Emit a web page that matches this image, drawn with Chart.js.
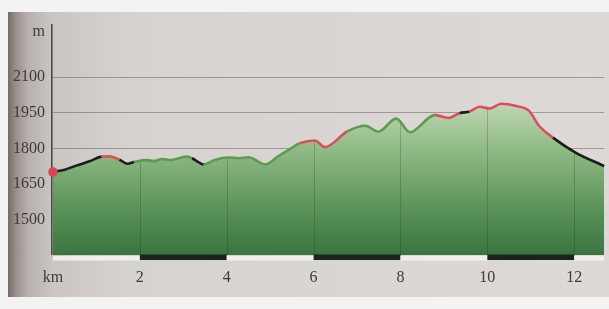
<!DOCTYPE html>
<html>
<head>
<meta charset="utf-8">
<script src="https://cdn.jsdelivr.net/npm/chart.js@4"></script>
<style>
  html, body { margin: 0; padding: 0; width: 609px; height: 309px; overflow: hidden; background: #f4f3f3; }
  #paper { position: absolute; left: 8px; top: 12px; right: 0; bottom: 12px;
    background: linear-gradient(to right, #746a69 0px, #968d8b 7px, #b7b0ae 20px, #cbc6c4 45px, #d6d2d0 120px, #dad6d4 350px, #dcd9d7 601px); }
  #c { position: absolute; left: 0; top: 0; }
</style>
</head>
<body>
<div id="paper"></div>
<canvas id="c" width="609" height="309"></canvas>
<script>
// distance along the route (km)
const distanceKm = [0, 0.27, 0.55, 0.84, 1.12, 1.30, 1.53, 1.71, 1.87, 2.15, 2.33, 2.51, 2.72, 2.90, 3.08, 3.20,
  3.47, 3.74, 4.04, 4.27, 4.50, 4.89, 5.18, 5.48, 5.68, 6.03, 6.26, 6.78, 7.19, 7.49, 7.90, 8.22, 8.79, 9.11,
  9.36, 9.59, 9.82, 10.05, 10.32, 10.66, 10.96, 11.19, 11.51, 12.03, 12.69];
// elevation (m)
const elevationM = [1700, 1710, 1728, 1745, 1765, 1766, 1752, 1735, 1742, 1750, 1746, 1755, 1750, 1758, 1765, 1758,
  1732, 1752, 1761, 1758, 1762, 1732, 1766, 1800, 1821, 1833, 1805, 1872, 1895, 1870, 1925, 1868, 1940, 1928,
  1948, 1955, 1975, 1968, 1988, 1978, 1958, 1895, 1845, 1782, 1725];
// gradient class of each segment: g = easy, k = medium, r = steep
const segmentClass = ['k','k','k','k','r','r','k','k','g','g','g','g','g','g','g','k',
  'g','g','g','g','g','g','g','g','r','r','r','g','g','g','g','g','r','r','k','r','r','r','r','r','r','r','k','k'];
const yTicks = [1500, 1650, 1800, 1950, 2100];
const yUnitTick = 2290;
const xTicks = [0, 2, 4, 6, 8, 10, 12];

const classColor = { g: '#5c9c50', k: '#1c1c1c', r: '#dc4f5a' };
const labelFont = { family: 'Liberation Serif', size: 16 };
const labelColor = '#3f3a3a';

const profilePoints = distanceKm.map((d, i) => ({ x: d, y: elevationM[i] }));

const gridUnderProfile = {
  id: 'gridUnderProfile',
  afterDatasetDraw(chart, args) {
    if (args.index !== 0) return;
    const { ctx, chartArea } = chart;
    const meta = chart.getDatasetMeta(0);
    const line = meta.dataset;
    const pts = meta.data;
    const xs = chart.scales.x;
    ctx.save();
    ctx.beginPath();
    line.path(ctx);
    ctx.lineTo(pts[pts.length - 1].x, chartArea.bottom);
    ctx.lineTo(pts[0].x, chartArea.bottom);
    ctx.closePath();
    ctx.clip();
    ctx.strokeStyle = 'rgba(30,45,30,0.24)';
    ctx.lineWidth = 1;
    xTicks.forEach(v => {
      if (v === 0) return;
      const px = Math.round(xs.getPixelForValue(v)) + 0.5;
      ctx.beginPath();
      ctx.moveTo(px, chartArea.top);
      ctx.lineTo(px, chartArea.bottom);
      ctx.stroke();
    });
    ctx.restore();
  },
  afterDraw(chart) {
    const { ctx, chartArea } = chart;
    const xs = chart.scales.x;
    ctx.save();
    const b = chartArea.bottom;
    for (let i = 0; i < xTicks.length; i++) {
      const x0 = xs.getPixelForValue(xTicks[i]);
      const x1 = i + 1 < xTicks.length ? xs.getPixelForValue(xTicks[i + 1]) : chartArea.right;
      if (i % 2 === 0) {
        ctx.fillStyle = '#f1efee';
        ctx.fillRect(x0, b + 1, x1 - x0, 4.5);
      } else {
        ctx.fillStyle = '#1a241b';
        ctx.fillRect(x0, b - 0.5, x1 - x0, 5.5);
      }
    }
    ctx.restore();
  }
};

new Chart(document.getElementById('c'), {
  type: 'line',
  data: {
    datasets: [{
      // filled area
      data: profilePoints,
      order: 2,
      borderWidth: 0,
      borderColor: 'rgba(0,0,0,0)',
      cubicInterpolationMode: 'monotone',
      fill: 'start',
      backgroundColor: (c) => {
        const ca = c.chart.chartArea;
        if (!ca) return 'rgba(80,150,80,0.6)';
        const g = c.chart.ctx.createLinearGradient(0, ca.top + 50, 0, ca.bottom);
        g.addColorStop(0, '#d9e7cf');
        g.addColorStop(0.42, '#8fba84');
        g.addColorStop(0.72, '#5d955a');
        g.addColorStop(1, '#3a7540');
        return g;
      },
      pointRadius: 0
    }, {
      // coloured profile line
      data: profilePoints,
      order: 1,
      clip: false,
      borderWidth: 2.6,
      cubicInterpolationMode: 'monotone',
      fill: false,
      segment: { borderColor: (s) => classColor[segmentClass[s.p0DataIndex]] },
      borderColor: '#1c1c1c',
      pointRadius: profilePoints.map((p, i) => i === 0 ? 4.8 : 0),
      pointBackgroundColor: '#d94755',
      pointBorderWidth: 0,
      pointHoverRadius: 0
    }]
  },
  options: {
    responsive: false,
    animation: false,
    devicePixelRatio: 1,
    layout: { padding: { top: 25, left: 0, right: 0, bottom: 0 } },
    plugins: { legend: { display: false }, tooltip: { enabled: false } },
    scales: {
      x: {
        type: 'linear', min: -0.023, max: 12.69, z: 1,
        afterBuildTicks: (s) => { s.ticks = xTicks.map(v => ({ value: v })); },
        afterFit: (s) => { s.height = 54; },
        border: { display: false },
        grid: { display: false, drawTicks: false },
        ticks: { padding: 13, font: labelFont, color: labelColor, maxRotation: 0, autoSkip: false,
          callback: (v) => v === 0 ? 'km' : v }
      },
      y: {
        type: 'linear', min: 1350, max: 2320, z: 1,
        afterBuildTicks: (s) => { s.ticks = yTicks.concat([yUnitTick]).map(v => ({ value: v })); },
        afterFit: (s) => { s.width = 52; },
        border: { display: true, color: '#4f4747', width: 1.6 },
        grid: { drawTicks: false, lineWidth: 1.1,
          color: (c) => c.tick && c.tick.value === yUnitTick ? 'rgba(0,0,0,0)' : 'rgba(60,55,55,0.38)' },
        ticks: { padding: 7, font: labelFont, color: labelColor,
          callback: (v) => v === yUnitTick ? 'm' : v }
      }
    }
  },
  plugins: [gridUnderProfile]
});
</script>
</body>
</html>
